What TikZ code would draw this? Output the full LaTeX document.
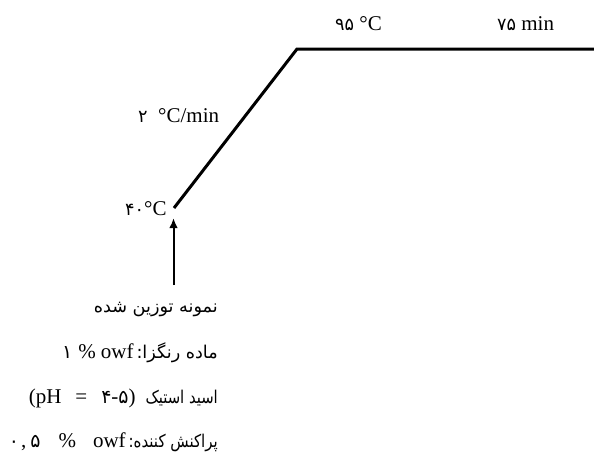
\documentclass[tikz,border=0pt]{standalone}
\usepackage{fontspec}
\setmainfont{Liberation Serif}
\newfontfamily\ar[Script=Arabic,Scale=0.84]{DejaVu Sans}
\newfontfamily\dg[Script=Arabic,Scale=0.9]{DejaVu Sans}
\TeXXeTstate=1
\usetikzlibrary{arrows.meta}
\begin{document}
\begin{tikzpicture}[x=1pt,y=-1pt,
  lbl/.style={inner sep=0pt, font=\fontsize{21}{25}\selectfont},
  curve/.style={line width=3pt, line join=miter},
  feed/.style={line width=2pt, -{Latex[length=10pt,width=8.5pt]}}]
\useasboundingbox[fill=white] (0,0) rectangle (594,455);
% temperature profile
\coordinate (s) at (174,208);
\coordinate (t) at (297,49);
\coordinate (e) at (594,49);
\draw[curve] (s) -- (t) -- (e);
% labels
\node[lbl, anchor=west] (n95) at (335,24) {{\ar ۹۵} °C};
\node[lbl, anchor=west] (n75) at (497,24) {{\ar ۷۵} min};
\node[lbl, anchor=west] (rate) at (138,116) {{\ar ۲}\ \ °C/min};
\node[lbl, anchor=west] (start) at (125,209) {{\ar ۴۰}°C};
% feed arrow
\coordinate (ab) at (173.5,285);
\coordinate (at) at (173.5,218);
\draw[feed] (ab) -- (at);
% recipe lines
\node[lbl, anchor=east] (l1) at (218,309) {{\ar\beginR نمونه توزین شده\endR}};
\node[lbl, anchor=east] (l2) at (218,353) {{\dg ۱}\hspace{6pt}\%\hspace{5pt}owf\hspace{3pt}{\ar\beginR ماده رنگزا:\endR}};
\node[lbl, anchor=east] (l3) at (218,398) {(pH\hspace{14pt}=\hspace{14pt}{\dg ۴}-{\dg ۵})\hspace{10pt}\scalebox{0.84}[1]{\ar\beginR اسید استیک\endR}};
\node[lbl, anchor=east] (l4) at (218,442) {{\dg ۰}\hspace{2pt},\hspace{4pt}{\dg ۵}\hspace{18pt}\%\hspace{17pt}owf\hspace{3pt}\scalebox{0.85}[1]{\ar\beginR پراکنش کننده:\endR}};
\end{tikzpicture}
\end{document}
